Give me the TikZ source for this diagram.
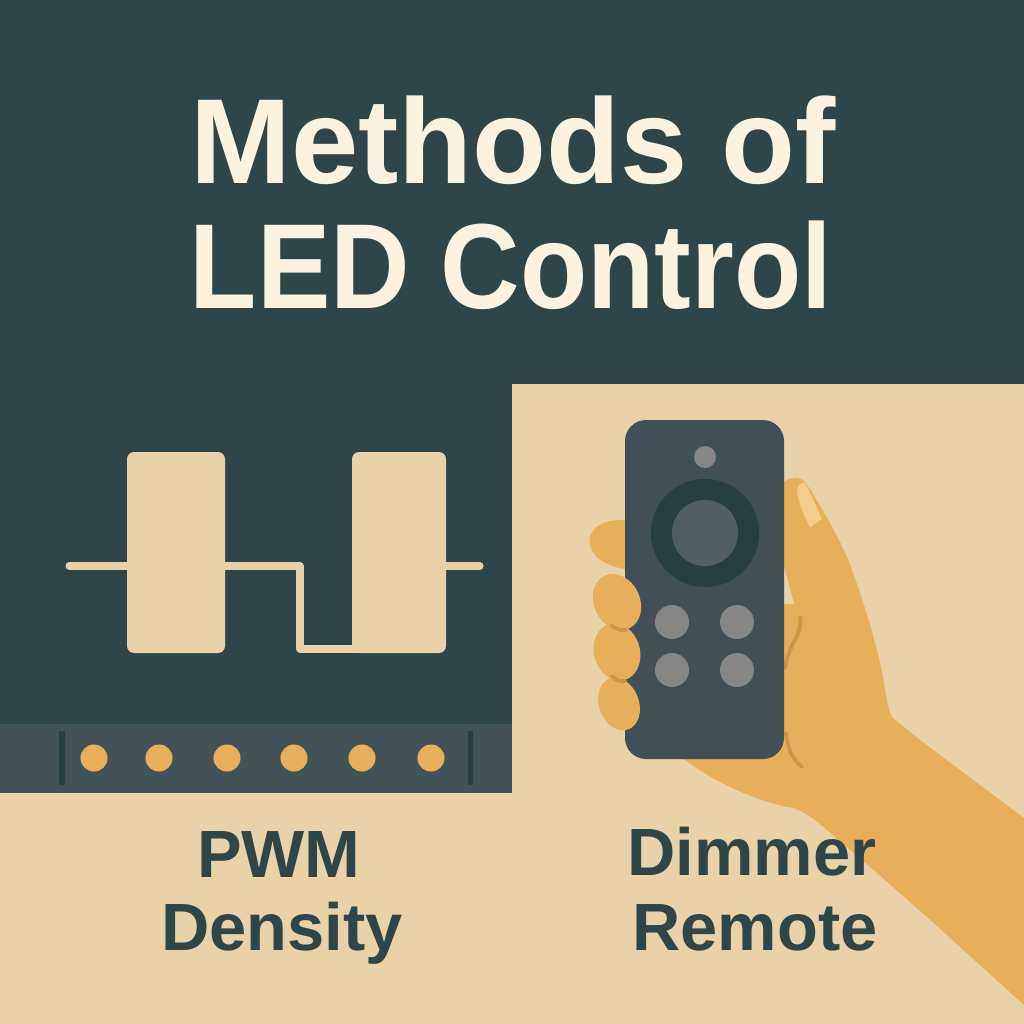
\documentclass[tikz,border=0pt]{standalone}
\usepackage{fontspec}
\setmainfont{Liberation Sans}
\definecolor{panel}{HTML}{2E4549}
\definecolor{sand}{HTML}{E9D2A8}
\definecolor{cream}{HTML}{FBF3DF}
\definecolor{strip}{HTML}{435259}
\definecolor{amber}{HTML}{E8AF5A}
\definecolor{crease}{HTML}{CF9348}
\definecolor{nail}{HTML}{F3CB8C}
\definecolor{remote}{HTML}{414F56}
\definecolor{ring}{HTML}{27403F}
\definecolor{padgray}{HTML}{515E62}
\definecolor{keygray}{HTML}{868684}
\begin{document}
\begin{tikzpicture}[
	x=0.01cm, y=-0.01cm,
	title/.style={text=cream, anchor=base, inner sep=0pt, font=\fontsize{34.4}{34.4}\selectfont\bfseries},
	caption/.style={text=panel, anchor=base, inner sep=0pt, font=\fontsize{19}{19}\selectfont\bfseries},
	pulse/.style={draw=sand, line width=2pt, line cap=round, line join=round},
	led/.style={circle, fill=amber, inner sep=0pt, minimum size=0.27cm},
	key/.style={circle, fill=keygray, inner sep=0pt, minimum size=0.34cm},
	crease line/.style={crease, line width=1.1pt, line cap=round}
]
%% Panels
\useasboundingbox (0,0) rectangle (1024,1024);
\fill[sand] (0,0) rectangle (1024,1024);
\fill[panel] (0,0) rectangle (1024,384);
\fill[panel] (0,384) rectangle (512,724);
\fill[strip] (0,724) rectangle (512,793);

%% Pulses
\draw[pulse] (69,566) -- (300,566) -- (300,649) -- (400,649);
\draw[pulse] (400,566) -- (480,566);
\fill[sand, rounded corners=2pt] (127,452) rectangle (225,653);
\fill[sand, rounded corners=2pt] (352,452) rectangle (446,653);

%% LED strip
\fill[ring] (59,731) rectangle (65,785);
\fill[ring] (468,731) rectangle (473,785);
\foreach \name/\xpos in {a/94,b/159,c/227,d/294,e/362,f/431}
	\node[led] (led\name) at (\xpos,758) {};

%% Hand
\fill[amber] (783,563)
	.. controls (775,540) and (771,515) .. (774,498)
	.. controls (777,482) and (792,474) .. (803,480)
	.. controls (812,490) and (835,530) .. (847,557)
	.. controls (860,590) and (876,640) .. (883,677)
	.. controls (887,700) and (888,712) .. (893,718)
	-- (920,740) -- (1024,818) -- (1024,1005)
	-- (927,917) -- (877,873) -- (827,830)
	.. controls (810,815) and (800,810) .. (793,808)
	.. controls (770,805) and (715,785) .. (683,758)
	-- (700,600) -- cycle;
\fill[amber] (640,590) -- (630,520) .. controls (600,518) and (587,530) .. (590,545)
	.. controls (593,560) and (610,568) .. (640,572) -- cycle;
\fill[sand] (783,563) -- (794,604) -- (783,604) -- cycle;
\fill[amber] (780,603) .. controls (795,603) and (805,620) .. (802,640) -- (785,680) -- cycle;
\fill[nail] (800,484) .. controls (795,488) and (796,500) .. (810,527)
	-- (822,519) .. controls (815,505) and (810,490) .. (804,482) -- cycle;
\draw[crease line] (800,617) .. controls (803,635) and (790,640) .. (785,668);
\draw[crease line] (786,733) .. controls (788,750) and (792,758) .. (802,767);

%% Remote
\fill[remote, rounded corners=0.21cm] (625,420) rectangle (784,759);
\node[circle, fill=keygray, inner sep=0pt, minimum size=0.22cm] (sensor) at (705,457) {};
\node[circle, fill=ring, inner sep=0pt, minimum size=1.08cm] (dial) at (705,533) {};
\node[circle, fill=padgray, inner sep=0pt, minimum size=0.66cm] (pad) at (705,533) {};
\node[key] (keya) at (672,622) {};
\node[key] (keyb) at (737,622) {};
\node[key] (keyc) at (672,670) {};
\node[key] (keyd) at (737,670) {};

%% Fingers
\fill[amber, rotate around={25:(617,602)}] (617,602) ellipse (23 and 29);
\fill[amber, rotate around={15:(617,652)}] (617,652) ellipse (23 and 29);
\fill[amber, rotate around={20:(619,704)}] (619,704) ellipse (20 and 27);
\draw[crease line] (611,625) .. controls (616,629) and (620,631) .. (626,630);
\draw[crease line] (612,676) .. controls (616,680) and (620,682) .. (625,681);

%% Labels
\node[title] (methods) at (513,183) {Methods of};
\node[title, font=\fontsize{34.4}{34.4}\selectfont\bfseries\addfontfeature{FakeStretch=0.91}] (control) at (511,308) {LED Control};
\node[caption] (pwm) at (279,877) {PWM};
\node[caption] (density) at (282,950) {Density};
\node[caption] (dimmer) at (752,875) {Dimmer};
\node[caption] (rem) at (755,950) {Remote};
\end{tikzpicture}
\end{document}
